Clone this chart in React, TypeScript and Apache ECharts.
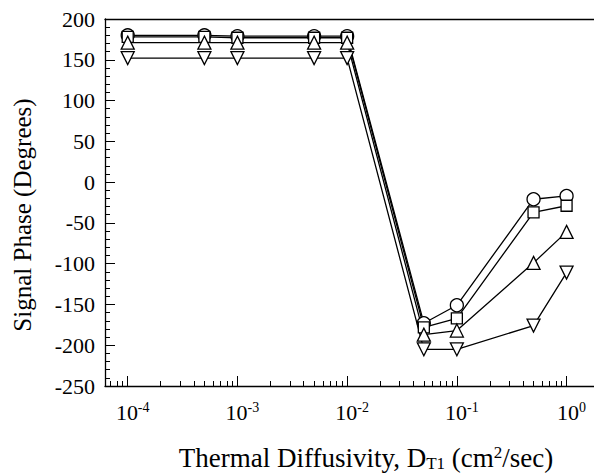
import React, { useEffect, useRef } from "react";
import * as echarts from "echarts";

// Thermal diffusivity values (cm^2/sec)
const diffusivity = [1e-4, 5e-4, 1e-3, 5e-3, 1e-2, 5e-2, 1e-1, 5e-1, 1];
// Signal phase (degrees) for the four marker series
const phaseCircle = [180, 180, 179, 179, 179, -173, -151, -21, -17];
const phaseSquare = [178, 178, 177, 177, 177, -178, -167, -37, -29];
const phaseTriUp = [171, 171, 171, 171, 171, -187, -182, -99, -61];
const phaseTriDown = [152, 152, 152, 152, 152, -205, -205, -176, -111];
// Decade exponents for the x tick labels
const decadeExponents = [-4, -3, -2, -1, 0];
const minorMultipliers = [2, 3, 4, 5, 6, 7, 8, 9];

const FONT = "Liberation Serif, Times New Roman, serif";

export default function App() {
  const ref = useRef<HTMLDivElement>(null);
  useEffect(() => {
    if (!ref.current) return;
    const chart = echarts.init(ref.current, null, { renderer: "svg" });
    const xMin = -4.207;
    const xMax = 0.25;
    const minorVals: number[] = [];
    for (let d = -5; d <= 0; d++) {
      for (const k of minorMultipliers) {
        const v = d + Math.log10(k);
        if (v > xMin && v < xMax) minorVals.push(v);
      }
    }
    const toData = (ys: number[]) => diffusivity.map((x, i) => [Math.log10(x), ys[i]]);
    const baseSeries = (name: string, ys: number[], symbol: string, rotate = 0, size = 12) => ({
      name,
      type: "line",
      data: toData(ys),
      symbol,
      symbolSize: size,
      symbolRotate: rotate,
      showAllSymbol: true,
      lineStyle: { color: "#000", width: 1.3 },
      itemStyle: { color: "#fff", borderColor: "#000", borderWidth: 1.3 },
      emphasis: { disabled: true },
    });
    chart.setOption({
      animation: false,
      backgroundColor: "#fff",
      grid: { left: 105, top: 19, width: 495, height: 367 },
      xAxis: [
        {
          type: "value",
          position: "bottom",
          min: xMin,
          max: xMax,
          axisLine: { show: true, onZero: false, lineStyle: { color: "#000", width: 1.3 } },
          axisTick: {
            show: true,
            inside: true,
            length: 10,
            customValues: decadeExponents,
            lineStyle: { color: "#000", width: 1 },
          },
          axisLabel: {
            show: true,
            customValues: decadeExponents,
            margin: 14,
            color: "#000",
            formatter: (v: number) => `{pad|}{b|10}{sup|${Math.round(v)}}`,
            rich: {
              pad: { width: 10 },
              b: { fontSize: 22, fontFamily: FONT, color: "#000", lineHeight: 24 },
              sup: {
                fontSize: 14,
                fontFamily: FONT,
                color: "#000",
                verticalAlign: "bottom",
                padding: [0, 0, 10, 0],
              },
            },
          },
          splitLine: { show: false },
        },
        {
          type: "value",
          position: "bottom",
          min: xMin,
          max: xMax,
          axisLine: { show: false, onZero: false },
          axisTick: {
            show: true,
            inside: true,
            length: 5,
            customValues: minorVals,
            lineStyle: { color: "#000", width: 1 },
          },
          axisLabel: { show: false },
          splitLine: { show: false },
        },
        {
          type: "value",
          position: "top",
          min: xMin,
          max: xMax,
          axisLine: { show: true, onZero: false, lineStyle: { color: "#000", width: 1.3 } },
          axisTick: { show: false },
          axisLabel: { show: false },
          splitLine: { show: false },
        },
      ],
      yAxis: {
        type: "value",
        min: -250,
        max: 200,
        interval: 50,
        axisLine: { show: true, onZero: false, lineStyle: { color: "#000", width: 1.3 } },
        axisTick: { show: true, inside: true, length: 10, lineStyle: { color: "#000", width: 1 } },
        minorTick: { show: true, splitNumber: 5, length: 5, lineStyle: { color: "#000", width: 1 } },
        axisLabel: { color: "#000", fontSize: 22, fontFamily: FONT, margin: 10 },
        splitLine: { show: false },
      },
      graphic: [
        {
          type: "text",
          x: 366,
          y: 458,
          style: {
            text: "Thermal Diffusivity, D{sub|T1} (cm{sup|2}/sec)",
            fontSize: 27,
            fontFamily: FONT,
            fill: "#000",
            align: "center",
            verticalAlign: "middle",
            rich: {
              sub: { fontSize: 17, fontFamily: FONT, fill: "#000", verticalAlign: "bottom", padding: [8, 0, 0, 0] },
              sup: { fontSize: 17, fontFamily: FONT, fill: "#000", verticalAlign: "bottom", padding: [0, 0, 11, 0] },
            },
          },
        },
        {
          type: "text",
          x: 22,
          y: 215,
          rotation: Math.PI / 2,
          style: {
            text: "Signal Phase (Degrees)",
            fontSize: 25,
            fontFamily: FONT,
            fill: "#000",
            align: "center",
            verticalAlign: "middle",
          },
        },
      ],
      series: [
        baseSeries("circle", phaseCircle, "circle", 0, 13),
        baseSeries("square", phaseSquare, "rect", 0, 11),
        baseSeries("triUp", phaseTriUp, "triangle", 0, 13),
        baseSeries("triDown", phaseTriDown, "triangle", 180, 13),
      ],
    });
    return () => chart.dispose();
  }, []);
  return (
    <div
      ref={ref}
      style={{ position: "fixed", left: 0, top: 0, width: 594, height: 476, background: "#fff" }}
    />
  );
}
